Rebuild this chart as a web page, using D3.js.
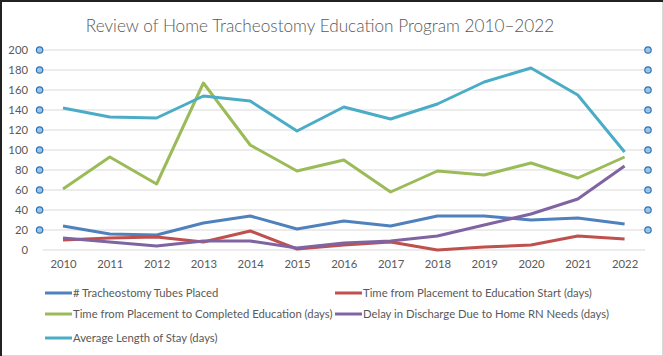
<!DOCTYPE html>
<html><head><meta charset="utf-8">
<script src="https://cdn.jsdelivr.net/npm/d3@7"></script>
<style>body{margin:0;background:#fff}svg{display:block}</style>
</head><body>
<svg id="c" width="663" height="356"></svg>
<script>
const years = ["2010","2011","2012","2013","2014","2015","2016","2017","2018","2019","2020","2021","2022"];
const tubesPlaced = [24,16,15,27,34,21,29,24,34,34,30,32,26];
const timeToEduStart = [10,12,13,8,19,1,5,8,0,3,5,14,11];
const timeToEduComplete = [61,93,66,167,105,79,90,58,79,75,87,72,93];
const dischargeDelay = [12,8,4,9,9,2,7,9,14,25,36,51,84];
const avgLengthOfStay = [142,133,132,154,149,119,143,131,146,168,182,155,98];
const yTicks = [0,20,40,60,80,100,120,140,160,180,200];
const seriesNames = ["# Tracheostomy Tubes Placed","Time from Placement to Education Start (days)","Time from Placement to Completed Education (days)","Delay in Discharge Due to Home RN Needs (days)","Average Length of Stay (days)"];
const seriesColors = ["#4F81BD","#C0504D","#9BBB59","#8064A2","#4BACC6"];
const seriesValues = [tubesPlaced,timeToEduStart,timeToEduComplete,dischargeDelay,avgLengthOfStay];
const title = "Review of Home Tracheostomy Education Program 2010–2022";

const svg = d3.select("#c");
const W = 663, H = 356;
const font = "Lato, 'Open Sans', sans-serif";
svg.append("rect").attr("x",0.5).attr("y",0.5).attr("width",W-1).attr("height",H-1).attr("fill","#fff").attr("stroke","#d9d9d9");
svg.append("line").attr("x1",1).attr("x2",1).attr("y1",0).attr("y2",H).attr("stroke","#222").attr("stroke-width",2);
svg.append("line").attr("x1",0).attr("x2",W).attr("y1",1).attr("y2",1).attr("stroke","#222").attr("stroke-width",2);

const plotL = 39.6, plotR = 648;
const x = d3.scalePoint().domain(years).range([plotL, plotR]).padding(0.5);
const y = d3.scaleLinear().domain([0,200]).range([250,50]);

svg.append("text").attr("x",320).attr("y",32).attr("text-anchor","middle")
  .attr("font-family","Lato, sans-serif").attr("font-weight",300).attr("font-size",17.2).attr("fill","#595959").text(title);

// gridlines
svg.append("g").selectAll("line").data(yTicks).join("line")
  .attr("x1",plotL+3).attr("x2",plotR-3).attr("y1",d=>y(d)).attr("y2",d=>y(d))
  .attr("stroke","#d9d9d9").attr("stroke-width",1);

// y axis labels
const yAxis = d3.axisLeft(y).tickValues(yTicks).tickSize(0).tickPadding(0);
const ga = svg.append("g").attr("transform","translate(28,0)").call(yAxis);
ga.select(".domain").remove();
ga.selectAll("text").attr("font-family",font).attr("font-size",11.3).attr("fill","#595959").attr("dy","0.35em");

// x axis labels
const xAxis = d3.axisBottom(x).tickSize(0).tickPadding(0);
const gx = svg.append("g").attr("transform","translate(0,260)").call(xAxis);
gx.select(".domain").remove();
gx.selectAll("text").attr("font-family",font).attr("font-size",11.3).attr("fill","#595959");

// side markers
const circTicks = yTicks.filter(d=>d>0);
[plotL, plotR].forEach(cx=>{
  svg.append("g").selectAll("circle").data(circTicks).join("circle")
    .attr("cx",cx).attr("cy",d=>y(d)).attr("r",3.2)
    .attr("fill","#9DC3E6").attr("stroke","#2E75B6").attr("stroke-width",1.2);
});

// lines
const line = d3.line().x((d,i)=>x(years[i])).y(d=>y(d));
seriesValues.forEach((vals,i)=>{
  svg.append("path").datum(vals).attr("d",line).attr("fill","none")
    .attr("stroke",seriesColors[i]).attr("stroke-width",3).attr("stroke-linejoin","round");
});

// legend
const legendPos = [[45,293],[335,293],[45,314],[335,314],[45,338]];
seriesNames.forEach((n,i)=>{
  const [lx,ly] = legendPos[i];
  svg.append("line").attr("x1",lx).attr("x2",lx+27).attr("y1",ly).attr("y2",ly)
    .attr("stroke",seriesColors[i]).attr("stroke-width",3);
  svg.append("text").attr("x",lx+28).attr("y",ly).attr("dy","0.35em")
    .attr("font-family",font).attr("font-size",11.3).attr("fill","#595959").text(n);
});
</script>
</body></html>
